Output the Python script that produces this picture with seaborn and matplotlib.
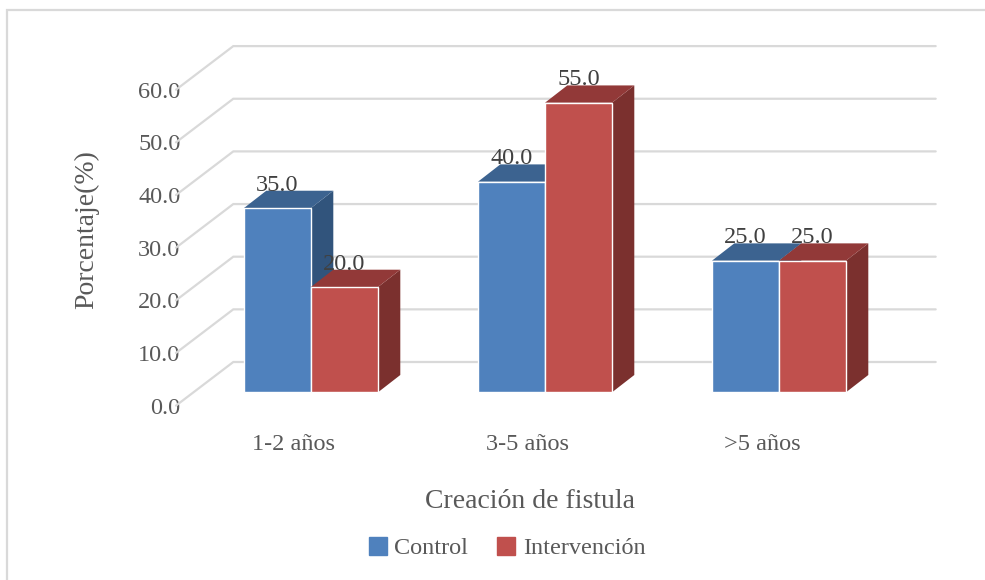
import matplotlib
matplotlib.use('Agg')
import pandas as pd
import seaborn as sns
import matplotlib.pyplot as plt
from matplotlib.patches import Polygon, Rectangle

# Values
categories = ['1-2 años', '3-5 años', '>5 años']
control = [35.0, 40.0, 25.0]
intervencion = [20.0, 55.0, 25.0]
y_ticks = [0, 10, 20, 30, 40, 50, 60]

W, H = 985, 580
BLUE, BLUE_TOP, BLUE_SIDE = '#4F81BD', '#3C6390', '#31547C'
RED, RED_TOP, RED_SIDE = '#C0504D', '#923938', '#7B302E'
GRID = '#D9D9D9'

# Pixel layout of the front plane of the bars
PX_PER_CAT = 234.0
PX_PER_UNIT = 5.265
X0_PX, Y0_PX = 311.0, 392.3
AX_L, AX_R, AX_T, AX_B = 150, 950, 30, 420


def px_x(px):
    return px / PX_PER_CAT


def px_y(px):
    return px / PX_PER_UNIT


df = pd.DataFrame({
    'cat': categories * 2,
    'valor': control + intervencion,
    'grupo': ['Control'] * 3 + ['Intervención'] * 3,
})

sns.set_theme(style='white')
plt.rcParams['font.family'] = ['Liberation Serif', 'DejaVu Serif']

fig = plt.figure(figsize=(W / 100, H / 100), dpi=100, facecolor='white')
ax = fig.add_axes([AX_L / W, 1 - AX_B / H, (AX_R - AX_L) / W, (AX_B - AX_T) / H])
ax.patch.set_alpha(0)

# Chart frame
fig.add_artist(Rectangle((7 / W, -0.1), 1.1, 1 - 10 / H + 0.1, transform=fig.transFigure,
                         facecolor='none', edgecolor=GRID, linewidth=1.6))

sns.barplot(data=df, x='cat', y='valor', hue='grupo', palette=[BLUE, RED],
            width=2 * 67 / PX_PER_CAT, gap=0, saturation=1, legend=False, ax=ax, zorder=3)

ax.set_xlim((AX_L - X0_PX) / PX_PER_CAT, (AX_R - X0_PX) / PX_PER_CAT)
ax.set_ylim((Y0_PX - AX_B) / PX_PER_UNIT, (Y0_PX - AX_T) / PX_PER_UNIT)
for spine in ax.spines.values():
    spine.set_visible(False)

# Walls: slanted side wall and back wall gridlines
wall_front_x, wall_back_x, wall_right = px_x(176 - X0_PX), px_x(233.3 - X0_PX), px_x(935.7 - X0_PX)
wall_front_y, wall_back_y = px_y(-13.3), px_y(30.3)
for t in y_ticks:
    ax.plot([wall_front_x, wall_back_x, wall_right],
            [t + wall_front_y, t + wall_back_y, t + wall_back_y],
            color=GRID, lw=1.6, zorder=1, solid_joinstyle='miter')

# Depth faces of the bars, taken from the bars seaborn drew
dx, dy = px_x(22.3), px_y(17.3)
bars = sorted(ax.patches, key=lambda b: b.get_x())
z = 3
for bar, val in zip(bars, [v for pair in zip(control, intervencion) for v in pair]):
    x, w, h = bar.get_x(), bar.get_width(), bar.get_height()
    is_blue = val is not None and bars.index(bar) % 2 == 0
    top_c, side_c = (BLUE_TOP, BLUE_SIDE) if is_blue else (RED_TOP, RED_SIDE)
    bar.set_zorder(z + 0.2)
    ax.add_patch(Polygon([(x + w, 0), (x + w + dx, dy), (x + w + dx, h + dy), (x + w, h)],
                         facecolor=side_c, edgecolor='none', zorder=z))
    ax.add_patch(Polygon([(x, h), (x + dx, h + dy), (x + w + dx, h + dy), (x + w, h)],
                         facecolor=top_c, edgecolor='none', zorder=z + 0.1))
    z += 1
    ax.text(x + w / 2, h + dy, f'{val:.1f}', ha='center', va='baseline', fontsize=17.5,
            color='#404040', zorder=20)

# Tick labels sit on the front edge of the side wall
ax.set_xticks([i - px_x(17) for i in range(len(categories))])
ax.set_xticklabels(categories)
ax.set_yticks([t + wall_front_y for t in y_ticks])
ax.set_yticklabels([f'{t:.1f}' for t in y_ticks])
ax.tick_params(axis='both', length=0, labelsize=17.5, labelcolor='#595959')
ax.tick_params(axis='y', pad=-22)
ax.tick_params(axis='x', pad=10)
ax.set_xlabel('')
ax.set_ylabel('')

fig.text(87 / W, 1 - 230 / H, 'Porcentaje(%)', rotation=90, ha='center', va='center',
         fontsize=20, color='#595959')
fig.text(530 / W, 1 - 502 / H, 'Creación de fistula', ha='center', va='center',
         fontsize=20, color='#595959')

# Legend
handles = [Rectangle((0, 0), 1, 1, color=BLUE), Rectangle((0, 0), 1, 1, color=RED)]
fig.legend(handles, ['Control', 'Intervención'], ncol=2, frameon=False, loc='center',
           bbox_to_anchor=(507 / W, 1 - 548 / H), fontsize=17.5, labelcolor='#595959',
           handlelength=0.75, handleheight=0.75, handletextpad=0.3, columnspacing=1.2)

fig.savefig('out.png', dpi=100)
